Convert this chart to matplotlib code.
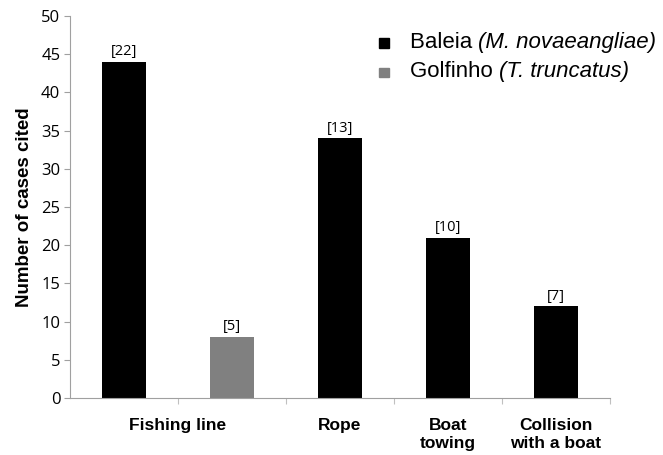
import matplotlib
matplotlib.use("Agg")
import matplotlib.pyplot as plt
from matplotlib.offsetbox import (AnchoredOffsetbox, DrawingArea, HPacker,
                                  TextArea, VPacker)
from matplotlib.patches import Rectangle

# ── Data ─────────────────────────────────────────────────────────────────────
slot_values = [44, 8, 34, 21, 12]
slot_colors = ["black", "#808080", "black", "black", "black"]
slot_refs   = ["[22]", "[5]", "[13]", "[10]", "[7]"]
cat_labels  = ["Fishing line", "Rope", "Boat\ntowing", "Collision\nwith a boat"]
cat_pos     = [0.5, 2, 3, 4]
species     = [("Baleia", "(M. novaeangliae)", "black"),
               ("Golfinho", "(T. truncatus)", "#808080")]

fig = plt.figure(figsize=(6.63, 4.55), dpi=100)
ax = fig.add_axes([0.1056, 0.1253, 0.8144, 0.8397])

x = range(len(slot_values))
ax.bar(x, slot_values, width=0.41, color=slot_colors, zorder=2)
for xi, v, ref in zip(x, slot_values, slot_refs):
    ax.text(xi, v + 0.35, ref, ha="center", va="bottom", fontsize=10.5,
            family="Open Sans")

ax.set_xlim(-0.5, 4.5)
ax.set_ylim(0, 50)
ax.set_yticks(range(0, 51, 5))
ax.tick_params(axis="y", labelsize=12, length=4, color="#a0a0a0", pad=3)
for lbl in ax.get_yticklabels():
    lbl.set_family("Open Sans")

# category ticks sit on slot boundaries, labels centred below groups
ax.set_xticks([0.5, 1.5, 2.5, 3.5, 4.5])
ax.set_xticklabels([])
ax.tick_params(axis="x", length=4, color="#c0c0c0")
for pos, lab in zip(cat_pos, cat_labels):
    ax.text(pos, -2.6, lab, ha="center", va="top", fontsize=12.5,
            fontweight="bold", family="Liberation Sans", linespacing=1.3)

for side in ["top", "right"]:
    ax.spines[side].set_visible(False)
ax.spines["left"].set_color("#a0a0a0")
ax.spines["bottom"].set_color("#a0a0a0")

ax.set_ylabel("Number of cases cited", fontsize=13.5, fontweight="bold",
              family="Liberation Sans", labelpad=6)

# legend with italic species names, built by hand
rows = []
for name, sci, col in species:
    da = DrawingArea(8, 8, 0, 0)
    da.add_artist(Rectangle((0, 0), 7, 7, color=col))
    t1 = TextArea(name + " ", textprops=dict(family="Liberation Sans", size=16))
    t2 = TextArea(sci, textprops=dict(family="Liberation Sans", size=16,
                                      style="italic"))
    label = HPacker(children=[t1, t2], align="baseline", pad=0, sep=0)
    rows.append(HPacker(children=[da, label], align="center", pad=0, sep=14))
box = VPacker(children=rows, align="left", pad=0, sep=6)
anchored = AnchoredOffsetbox(loc="upper left", child=box, frameon=False,
                             bbox_to_anchor=(0.572, 0.93),
                             bbox_transform=fig.transFigure, borderpad=0, pad=0)
fig.add_artist(anchored)

fig.savefig("out.png", dpi=100)
